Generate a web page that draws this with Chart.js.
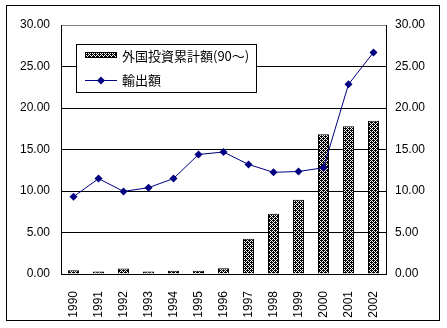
<!DOCTYPE html>
<html>
<head>
<meta charset="utf-8">
<script src="https://cdn.jsdelivr.net/npm/chart.js@4"></script>
<style>
  body { margin: 0; background: #fff; }
  #wrap { width: 447px; height: 328px; }
</style>
</head>
<body>
<div id="wrap"><canvas id="chart"></canvas></div>
<script>
const years = ['1990', '1991', '1992', '1993', '1994', '1995', '1996', '1997', '1998', '1999', '2000', '2001', '2002'];
const investLabel = '外国投資累計額(90～)';
const investValues = [0.45, 0.3, 0.65, 0.3, 0.4, 0.4, 0.7, 4.25, 7.25, 8.95, 16.85, 17.8, 18.45];
const exportLabel = '輸出額';
const exportValues = [9.3, 11.5, 9.95, 10.4, 11.5, 14.4, 14.7, 13.2, 12.25, 12.35, 12.8, 22.85, 26.7];

const tickFont = { family: 'Liberation Sans', size: 12 };
const navy = '#000080';

// dithered fill like the old spreadsheet bar pattern
function makePattern() {
  const c = document.createElement('canvas');
  c.width = 4; c.height = 4;
  const g = c.getContext('2d');
  g.fillStyle = '#fff';
  g.fillRect(0, 0, 4, 4);
  g.fillStyle = '#000';
  const dots = [[0,0],[2,0],[1,1],[3,1],[0,2],[2,2],[1,3],[3,3],[3,2],[1,0]];
  dots.forEach(([x, y]) => g.fillRect(x, y, 1, 1));
  return g.createPattern(c, 'repeat');
}
const barFill = makePattern();

const framePlugin = {
  id: 'frame',
  beforeDraw(chart) {
    const ctx = chart.ctx;
    ctx.save();
    ctx.fillStyle = '#fff';
    ctx.fillRect(0, 0, chart.width, chart.height);
    ctx.strokeStyle = '#000';
    ctx.lineWidth = 1;
    ctx.strokeRect(6.5, 5.5, 433, 315);
    ctx.restore();
  }
};

const boxLegend = {
  id: 'boxLegend',
  afterDraw(chart) {
    const ctx = chart.ctx;
    const x = 76.5, y = 44.5, w = 180, h = 48;
    ctx.save();
    ctx.fillStyle = '#fff';
    ctx.fillRect(x, y, w, h);
    ctx.strokeStyle = '#000';
    ctx.lineWidth = 1;
    ctx.strokeRect(x, y, w, h);

    // bar swatch
    ctx.fillStyle = barFill;
    ctx.fillRect(85, 53, 32, 5);
    ctx.strokeRect(85.5, 52.5, 31, 5);

    // line swatch
    ctx.strokeStyle = navy;
    ctx.beginPath();
    ctx.moveTo(85, 80.5);
    ctx.lineTo(117, 80.5);
    ctx.stroke();
    ctx.fillStyle = navy;
    ctx.beginPath();
    ctx.moveTo(101, 76.5); ctx.lineTo(105, 80.5); ctx.lineTo(101, 84.5); ctx.lineTo(97, 80.5);
    ctx.closePath();
    ctx.fill();

    ctx.fillStyle = '#000';
    ctx.font = '13px "Noto Sans CJK JP"';
    ctx.textBaseline = 'middle';
    ctx.fillText(chart.data.datasets[0].label, 122, 56);
    ctx.fillText(chart.data.datasets[1].label, 122, 80);
    ctx.restore();
  }
};

new Chart(document.getElementById('chart'), {
  data: {
    labels: years,
    datasets: [
      {
        type: 'bar',
        label: investLabel,
        data: investValues,
        backgroundColor: barFill,
        borderColor: '#000',
        borderWidth: 1,
        categoryPercentage: 1,
        barPercentage: 0.44,
        yAxisID: 'y',
        order: 2
      },
      {
        type: 'line',
        label: exportLabel,
        data: exportValues,
        borderColor: navy,
        backgroundColor: navy,
        borderWidth: 1,
        pointStyle: 'rectRot',
        pointRadius: 4,
        pointBorderWidth: 0,
        tension: 0,
        yAxisID: 'y',
        order: 1
      }
    ]
  },
  options: {
    responsive: true,
    maintainAspectRatio: false,
    animation: false,
    layout: { padding: { top: 25, left: 0, right: 0, bottom: 0 } },
    plugins: {
      legend: { display: false },
      tooltip: { enabled: false }
    },
    scales: {
      x: {
        offset: true,
        grid: { display: false },
        border: { display: true, color: '#000', width: 1 },
        ticks: {
          color: '#000',
          font: tickFont,
          minRotation: 90,
          maxRotation: 90,
          padding: 9
        },
        afterFit(scale) { scale.height = 54; }
      },
      y: {
        position: 'left',
        min: 0,
        max: 30,
        grid: {
          color: ctx => (ctx.tick && ctx.tick.value === 30 ? '#808080' : '#000'),
          lineWidth: 1,
          drawTicks: false
        },
        border: { display: true, color: '#000', width: 1 },
        ticks: {
          stepSize: 5,
          color: '#000',
          font: tickFont,
          padding: 11,
          callback: v => v.toFixed(2)
        },
        afterFit(scale) { scale.width = 61; }
      },
      y2: {
        position: 'right',
        min: 0,
        max: 30,
        grid: { display: false, drawTicks: false },
        border: { display: true, color: '#000', width: 1 },
        ticks: {
          stepSize: 5,
          color: '#000',
          font: tickFont,
          padding: 9,
          callback: v => v.toFixed(2)
        },
        afterFit(scale) { scale.width = 61; }
      }
    }
  },
  plugins: [framePlugin, boxLegend]
});
</script>
</body>
</html>
